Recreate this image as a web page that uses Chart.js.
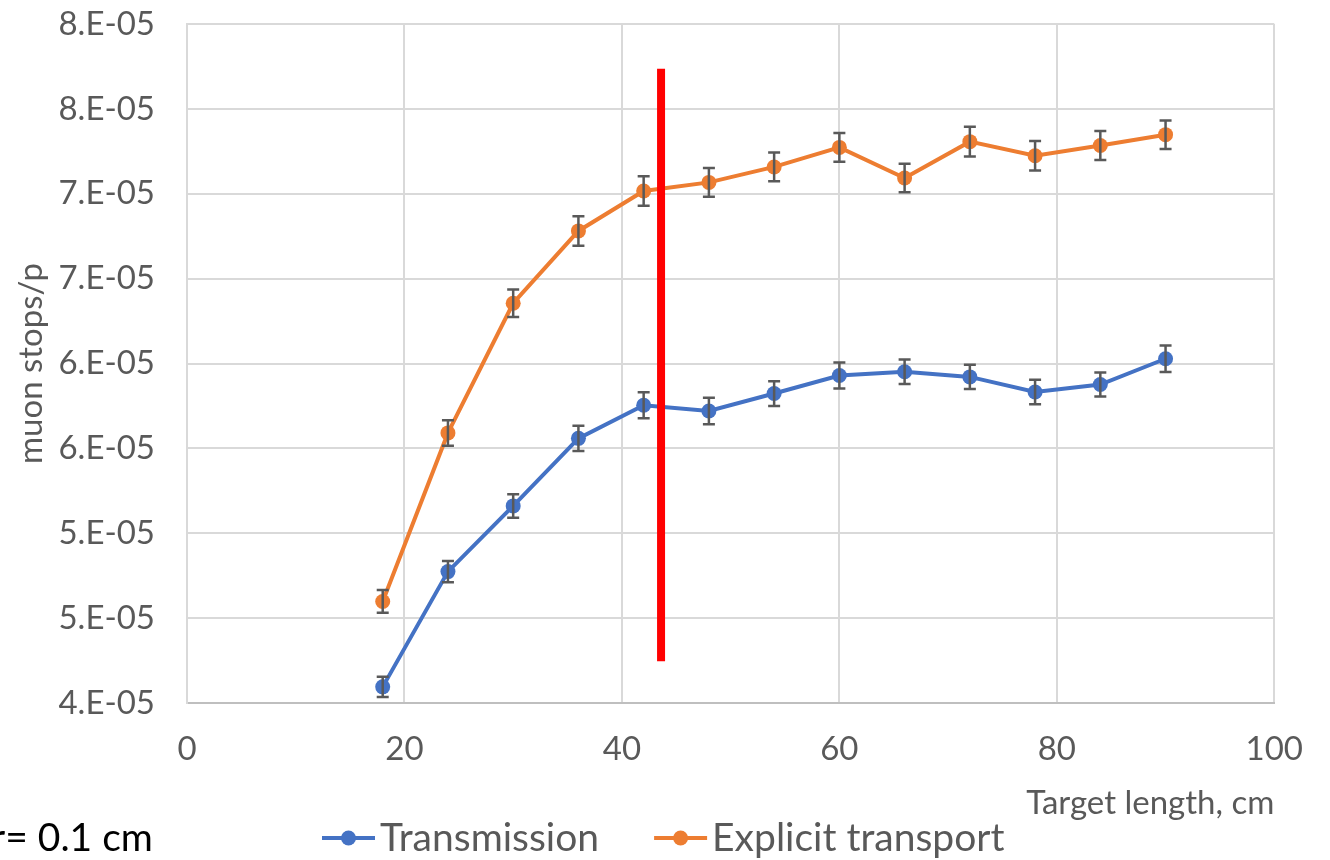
<!DOCTYPE html>
<html>
<head>
<meta charset="utf-8">
<title>muon stops/p</title>
<script src="https://cdn.jsdelivr.net/npm/chart.js@4.4.1/dist/chart.umd.min.js"></script>
<style>
	html, body { margin: 0; padding: 0; background: #fff; }
	#grafico { display: block; }
</style>
</head>
<body>
<canvas id="grafico" width="1330" height="860"></canvas>
<script>
// target length, cm
var targetLength = [18, 24, 30, 36, 42, 48, 54, 60, 66, 72, 78, 84, 90];

// muon stops per proton
var transmission = [4.095e-5, 4.774e-5, 5.161e-5, 5.559e-5, 5.754e-5, 5.720e-5, 5.823e-5,
	5.929e-5, 5.951e-5, 5.921e-5, 5.832e-5, 5.876e-5, 6.028e-5];
var transmissionErr = [0.059e-5, 0.063e-5, 0.069e-5, 0.075e-5, 0.077e-5, 0.078e-5, 0.073e-5,
	0.077e-5, 0.072e-5, 0.071e-5, 0.072e-5, 0.071e-5, 0.078e-5];

var explicitTransport = [4.598e-5, 5.591e-5, 6.355e-5, 6.781e-5, 7.016e-5, 7.067e-5, 7.158e-5,
	7.273e-5, 7.093e-5, 7.307e-5, 7.224e-5, 7.284e-5, 7.348e-5];
var explicitErr = [0.067e-5, 0.075e-5, 0.081e-5, 0.087e-5, 0.087e-5, 0.085e-5, 0.085e-5,
	0.085e-5, 0.084e-5, 0.087e-5, 0.087e-5, 0.085e-5, 0.084e-5];

// red marker line
var cutLength = [43.6, 43.6];
var cutRange = [4.246e-5, 7.737e-5];

// excel style labels "0.E+00"
var yTickLabels = ['4.E-05', '5.E-05', '5.E-05', '6.E-05', '6.E-05', '7.E-05', '7.E-05', '8.E-05', '8.E-05'];

var AZUL = '#4472C4';
var LARANJA = '#ED7D31';
var CINZA = '#595959';

function pontos(xs, ys) {
	return xs.map(function(x, i) { return { x: x, y: ys[i] }; });
}

var barrasDeErro = {
	id: 'barrasDeErro',
	afterDatasetsDraw: function(chart) {
		var ctx = chart.ctx;
		var xs = chart.scales.x, ys = chart.scales.y;
		ctx.save();
		ctx.strokeStyle = CINZA;
		ctx.lineWidth = 2.5;
		chart.data.datasets.forEach(function(ds) {
			if (!ds.erros) return;
			ds.data.forEach(function(p, i) {
				var px = xs.getPixelForValue(p.x);
				var top = ys.getPixelForValue(p.y + ds.erros[i]);
				var bot = ys.getPixelForValue(p.y - ds.erros[i]);
				ctx.beginPath();
				ctx.moveTo(px, top); ctx.lineTo(px, bot);
				ctx.moveTo(px - 6, top); ctx.lineTo(px + 6, top);
				ctx.moveTo(px - 6, bot); ctx.lineTo(px + 6, bot);
				ctx.stroke();
			});
		});
		ctx.restore();
	}
};

// legend with line + marker, plus the cut-off note at bottom left
var legenda = {
	id: 'legenda',
	afterDraw: function(chart) {
		var ctx = chart.ctx;
		var y = 838;
		ctx.save();
		ctx.font = '39px Lato';
		ctx.textBaseline = 'middle';
		ctx.fillStyle = '#000';
		ctx.fillText('r= 0.1 cm', -9, y);

		var x = 322;
		chart.data.datasets.forEach(function(ds) {
			if (!ds.label) return;
			ctx.strokeStyle = ds.borderColor;
			ctx.lineWidth = 4;
			ctx.beginPath();
			ctx.moveTo(x, y); ctx.lineTo(x + 53, y);
			ctx.stroke();
			ctx.fillStyle = ds.borderColor;
			ctx.beginPath();
			ctx.arc(x + 26.5, y, 7.5, 0, Math.PI * 2);
			ctx.fill();
			ctx.fillStyle = CINZA;
			ctx.fillText(ds.label, x + 58, y);
			x += 58 + ctx.measureText(ds.label).width + 55;
		});
		ctx.restore();
	}
};

Chart.defaults.font.family = 'Lato';
Chart.defaults.color = CINZA;

var grafico = new Chart(document.getElementById('grafico').getContext('2d'), {
	type: 'line',
	data: {
		datasets: [{
			data: pontos(cutLength, cutRange),
			borderColor: '#FF0000',
			borderWidth: 8,
			borderCapStyle: 'butt',
			pointRadius: 0,
			order: 0
		}, {
			label: 'Transmission',
			data: pontos(targetLength, transmission),
			erros: transmissionErr,
			borderColor: AZUL,
			backgroundColor: AZUL,
			borderWidth: 4,
			pointRadius: 7.5,
			pointBorderWidth: 0,
			order: 1
		}, {
			label: 'Explicit transport',
			data: pontos(targetLength, explicitTransport),
			erros: explicitErr,
			borderColor: LARANJA,
			backgroundColor: LARANJA,
			borderWidth: 4,
			pointRadius: 7.5,
			pointBorderWidth: 0,
			order: 2
		}]
	},
	options: {
		responsive: false,
		animation: false,
		devicePixelRatio: 1,
		layout: { padding: { top: 24, right: 55, bottom: 0, left: 0 } },
		plugins: {
			legend: { display: false },
			tooltip: { enabled: false }
		},
		scales: {
			x: {
				type: 'linear',
				min: 0,
				max: 100,
				ticks: { stepSize: 20, padding: 27, font: { size: 33 } },
				grid: { color: '#D9D9D9', lineWidth: 2, drawTicks: false },
				border: { color: '#BFBFBF', width: 2 },
				title: {
					display: true,
					text: 'Target length, cm',
					align: 'end',
					font: { size: 33 },
					padding: { top: 0, bottom: 37 }
				},
				afterFit: function(scale) { scale.height = 157; }
			},
			y: {
				min: 4e-5,
				max: 8e-5,
				ticks: {
					stepSize: 0.5e-5,
					padding: 32,
					font: { size: 33 },
					callback: function(v, i) { return yTickLabels[i]; }
				},
				grid: { color: '#D9D9D9', lineWidth: 2, drawTicks: false },
				border: { color: '#D9D9D9', width: 2 },
				title: {
					display: true,
					text: 'muon stops/p',
					font: { size: 33 },
					padding: { top: 12, bottom: 0 }
				},
				afterFit: function(scale) {
					scale.width = 187;
					scale.paddingTop = 0;
					scale.paddingBottom = 0;
				}
			}
		}
	},
	plugins: [barrasDeErro, legenda]
});
</script>
</body>
</html>
